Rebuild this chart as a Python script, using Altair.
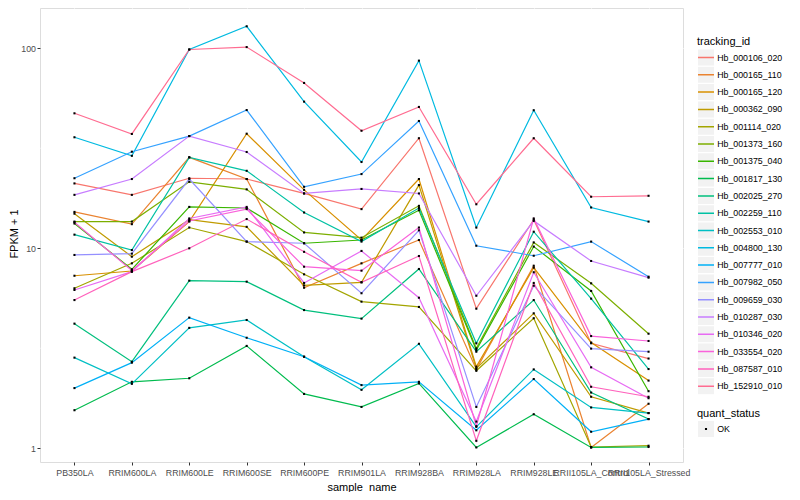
import altair as alt
import pandas as pd

samples = ["PB350LA", "RRIM600LA", "RRIM600LE", "RRIM600SE", "RRIM600PE", "RRIM901LA",
           "RRIM928BA", "RRIM928LA", "RRIM928LE", "RRII105LA_Control", "RRII105LA_Stressed"]

tracking_ids = ["Hb_000106_020", "Hb_000165_110", "Hb_000165_120", "Hb_000362_090",
                "Hb_001114_020", "Hb_001373_160", "Hb_001375_040", "Hb_001817_130",
                "Hb_002025_270", "Hb_002259_110", "Hb_002553_010", "Hb_004800_130",
                "Hb_007777_010", "Hb_007982_050", "Hb_009659_030", "Hb_010287_030",
                "Hb_010346_020", "Hb_033554_020", "Hb_087587_010", "Hb_152910_010"]

line_colors = ["#F8766D", "#EA8331", "#D89000", "#C09B00", "#A3A500", "#7CAE00", "#39B600",
               "#00BB4E", "#00BF7D", "#00C1A3", "#00BFC4", "#00BAE0", "#00B0F6", "#35A2FF",
               "#9590FF", "#C77CFF", "#E76BF3", "#FA62DB", "#FF62BC", "#FF6C91"]

hb_000106_020 = [21.1, 18.5, 22.4, 22.2, 18.8, 15.7, 35.5, 4.99, 13.9, 3.35, 2.81]
hb_000165_110 = [15.2, 13.2, 28.5, 22.2, 6.35, 8.41, 11.0, 2.48, 8.18, 1.01, 1.67]
hb_000165_120 = [7.29, 7.70, 13.6, 37.4, 19.6, 11.0, 22.2, 2.56, 8.00, 3.38, 2.18]
hb_000362_090 = [14.9, 9.08, 13.9, 12.8, 6.52, 6.76, 20.7, 2.51, 4.73, 1.81, 1.50]
hb_001114_020 = [6.31, 8.41, 12.7, 10.8, 7.41, 5.41, 5.09, 2.44, 4.47, 1.015, 1.03]
hb_001373_160 = [13.6, 13.6, 21.5, 19.7, 12.0, 11.3, 16.3, 3.16, 10.7, 6.68, 3.74]
hb_001375_040 = [13.3, 7.85, 16.1, 15.9, 10.6, 11.0, 15.5, 3.10, 10.2, 6.12, 1.93]
hb_001817_130 = [1.55, 2.15, 2.24, 3.25, 1.87, 1.61, 2.11, 1.01, 1.48, 1.01, 1.015]
hb_002025_270 = [4.20, 2.71, 6.89, 6.81, 4.91, 4.45, 7.88, 3.04, 5.51, 1.90, 1.40]
hb_002259_110 = [11.7, 9.80, 28.5, 24.4, 15.1, 10.8, 15.9, 3.35, 12.1, 5.60, 2.49]
hb_002553_010 = [2.84, 2.10, 4.00, 4.38, 2.87, 1.96, 3.33, 1.28, 2.48, 1.60, 1.50]
hb_004800_130 = [35.9, 29.0, 98.6, 128.8, 54.1, 27.0, 86.7, 12.7, 49.0, 16.0, 13.6]
hb_007777_010 = [2.00, 2.68, 4.50, 3.57, 2.87, 2.07, 2.15, 1.23, 2.22, 1.21, 1.40]
hb_007982_050 = [22.4, 30.4, 36.4, 49.1, 20.3, 23.5, 43.3, 10.3, 9.18, 10.8, 7.21]
hb_009659_030 = [9.26, 9.40, 22.2, 10.8, 10.6, 5.96, 12.3, 1.61, 6.50, 3.15, 3.04]
hb_010287_030 = [18.5, 22.2, 36.4, 30.3, 18.8, 19.8, 18.8, 5.79, 13.7, 8.64, 7.13]
hb_010346_020 = [6.19, 7.64, 14.1, 16.1, 6.71, 9.70, 5.66, 1.36, 7.59, 2.54, 1.78]
hb_033554_020 = [13.5, 7.74, 13.7, 15.7, 8.09, 7.73, 12.7, 1.29, 14.1, 3.64, 3.44]
hb_087587_010 = [5.51, 7.64, 10.0, 14.0, 9.60, 6.76, 9.15, 1.09, 6.71, 2.03, 1.81]
hb_152910_010 = [47.3, 37.3, 98.6, 101.4, 67.1, 38.7, 50.9, 16.6, 35.5, 18.1, 18.3]

series = [hb_000106_020, hb_000165_110, hb_000165_120, hb_000362_090, hb_001114_020,
          hb_001373_160, hb_001375_040, hb_001817_130, hb_002025_270, hb_002259_110,
          hb_002553_010, hb_004800_130, hb_007777_010, hb_007982_050, hb_009659_030,
          hb_010287_030, hb_010346_020, hb_033554_020, hb_087587_010, hb_152910_010]

quant_levels = ["OK"]
major_breaks = [1, 10, 100]
minor_breaks = [3.1623, 31.623]
y_domain = [0.854, 159.0]

rows = []
for tid, vals in zip(tracking_ids, series):
    for i, (s, v) in enumerate(zip(samples, vals)):
        rows.append({"tracking_id": tid, "sample_name": s, "idx": i,
                     "fpkm1": v, "quant_status": "OK"})
df = pd.DataFrame(rows)

FONT = "Liberation Sans"
KEY_GREY = "#F2F2F2"
SQ = "M-0.13,-0.13H0.13V0.13H-0.13Z"

x_enc = alt.X("sample_name:N", sort=samples,
              scale=alt.Scale(type="point", domain=samples, padding=0.6),
              axis=alt.Axis(title="sample_name", labelAngle=0, labelOverlap=False,
                            grid=True, gridColor="white", gridWidth=1.1, domain=False,
                            tickColor="#333333", tickSize=3, tickWidth=1,
                            labelColor="#4D4D4D", labelFontSize=8.8, labelPadding=3.5,
                            labelFont=FONT, titleFont=FONT, titleFontSize=11,
                            titleFontWeight="normal", titleColor="black",
                            titleY=25, titleBaseline="middle"))
y_scale = alt.Scale(type="log", domain=y_domain, nice=False)
y_enc = alt.Y("fpkm1:Q", scale=y_scale,
              axis=alt.Axis(title="FPKM + 1", values=major_breaks, format="d",
                            grid=True, gridColor="white", gridWidth=1.1, domain=False,
                            tickColor="#333333", tickSize=3, tickWidth=1,
                            labelColor="#4D4D4D", labelFontSize=8.8, labelPadding=1.5,
                            labelFont=FONT, titleFont=FONT, titleFontSize=11,
                            titleFontWeight="normal", titleColor="black",
                            titleAngle=270, titleX=-25.8, titleY=225.5,
                            titleAlign="center", titleBaseline="middle"))

common_legend = dict(orient="none", direction="vertical", padding=0, symbolSize=256,
                     symbolStrokeWidth=1.5, rowPadding=0.3, clipHeight=17,
                     labelFontSize=8.8, labelFont=FONT, labelColor="black", labelOffset=2.2,
                     titleFont=FONT, titleFontSize=11, titleFontWeight="normal",
                     titleColor="black", titlePadding=2, legendX=657)

# grey key boxes (legend only, no visible marks)
grey_keys = alt.Chart(df).transform_filter("false").mark_square(filled=True, opacity=1).encode(
    x=x_enc, y=y_enc,
    color=alt.Color("tracking_id:N",
                    scale=alt.Scale(domain=tracking_ids, range=[KEY_GREY] * len(tracking_ids)),
                    legend=alt.Legend(title=" ", legendY=28, symbolType="square",
                                      symbolStrokeColor="transparent", labelExpr="''",
                                      **common_legend)))

grey_keys_q = alt.Chart(df).transform_filter("false").mark_square(filled=True, opacity=1).encode(
    x=x_enc, y=y_enc,
    fill=alt.Fill("quant_status:N",
                  scale=alt.Scale(domain=quant_levels, range=[KEY_GREY]),
                  legend=alt.Legend(title=" ", legendY=399.5, symbolType="square",
                                    symbolStrokeColor="transparent", labelExpr="''",
                                    **common_legend)))

minor_grid = alt.Chart(pd.DataFrame({"fpkm1": minor_breaks})).mark_rule(
    color="white", strokeWidth=0.55).encode(y=y_enc)

lines = alt.Chart(df).mark_line(strokeWidth=1.2).encode(
    x=x_enc, y=y_enc,
    order=alt.Order("idx:Q"),
    stroke=alt.Stroke("tracking_id:N", scale=alt.Scale(range=line_colors),
                      legend=alt.Legend(title="tracking_id", legendY=28, symbolType="stroke",
                                        **common_legend)))

points = alt.Chart(df).mark_point(filled=True, color="black", size=256, opacity=1).encode(
    x=x_enc, y=y_enc,
    shape=alt.Shape("quant_status:N", scale=alt.Scale(range=[SQ]),
                    legend=alt.Legend(title="quant_status", legendY=399.5,
                                      symbolFillColor="black",
                                      symbolStrokeColor="transparent", **common_legend)))

chart = alt.layer(grey_keys, grey_keys_q, minor_grid, lines, points).properties(
    width=643, height=454,
    autosize=alt.AutoSizeParams(type="none"),
    padding={"left": 32, "top": 0, "right": 109, "bottom": 30},
    background="white",
).configure_view(fill="#EBEBEB", strokeWidth=0).configure(font=FONT)

chart.save("out.html", embed_options={"renderer": "svg", "actions": False})
